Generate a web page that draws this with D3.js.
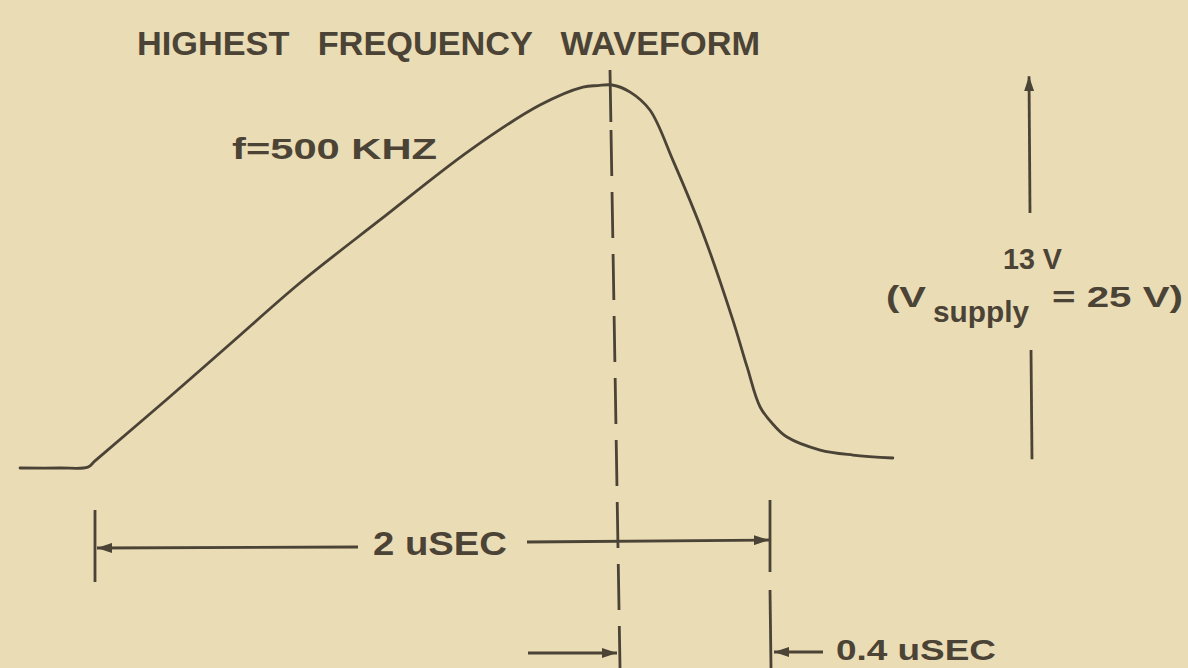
<!DOCTYPE html>
<html>
<head>
<meta charset="utf-8">
<script src="https://cdn.jsdelivr.net/npm/d3@7"></script>
<style>
  html, body { margin: 0; padding: 0; background: #eadcb5; }
  svg { display: block; }
  text { font-family: "Liberation Sans Narrow", "Liberation Sans", "DejaVu Sans", sans-serif; font-weight: bold; fill: #4a4336; }
</style>
</head>
<body>
<script>
// Waveform samples: time in microseconds, output in volts
const timeUs = [-0.232, -0.108, -0.022, 0.000, 0.220, 0.418, 0.634, 0.882, 1.161, 1.377, 1.510, 1.556, 1.600,
                1.646, 1.696, 1.754, 1.830, 1.906, 1.942, 1.975, 2.010, 2.043, 2.127, 2.210, 2.311];
const volts  = [0.00, 0.00, 0.03, 0.24, 2.31, 4.21, 6.28, 8.42, 10.79, 12.32, 12.93, 12.98, 13.00,
                12.76, 12.15, 10.45, 7.98, 5.02, 3.43, 2.07, 1.45, 1.05, 0.61, 0.44, 0.34];

// Timing annotations (microseconds)
const periodUs = 2;        // full cycle, f = 500 kHz
const fallUs = 0.4;        // peak to end of cycle
const peakUs = periodUs - fallUs;

// Amplitude annotation (volts)
const amplitudeV = 13;
const ampBaseV = 0.3;
const supplyV = 25;

// Text labels
const titleText = "HIGHEST FREQUENCY WAVEFORM";
const freqText = "f=500 KHZ";
const periodText = "2 uSEC";
const fallText = "0.4 uSEC";

const W = 1188, H = 668;
const ink = "#4a4336";
const lw = 2.8;

const svg = d3.select("body").append("svg").attr("width", W).attr("height", H);

// Drawing is not to scale: piecewise time axis (rise and fall portions)
const x = d3.scaleLinear().domain([0, peakUs, periodUs]).range([95, 612, 770]);
const y = d3.scaleLinear().domain([0, amplitudeV]).range([468, 85]);

const defs = svg.append("defs");
defs.append("marker")
  .attr("id", "head")
  .attr("viewBox", "0 0 15 10")
  .attr("refX", 15).attr("refY", 5)
  .attr("markerWidth", 15).attr("markerHeight", 10)
  .attr("markerUnits", "userSpaceOnUse")
  .attr("orient", "auto-start-reverse")
  .append("path").attr("d", "M0,0 L15,5 L0,10 Z").attr("fill", ink);

// Waveform
const pts = timeUs.map((t, i) => [t, volts[i]]);
svg.append("path")
  .datum(pts)
  .attr("d", d3.line().x(d => x(d[0])).y(d => y(d[1])).curve(d3.curveCatmullRom.alpha(0.5)))
  .attr("fill", "none").attr("stroke", ink).attr("stroke-width", lw)
  .attr("stroke-linecap", "round").attr("stroke-linejoin", "round");

// Dashed marker through the peak
const dash = [52, 8].concat(d3.range(12).flatMap(() => [46, 16]));
svg.append("line")
  .attr("x1", x(peakUs) - 2).attr("x2", x(peakUs) + 8)
  .attr("y1", 70).attr("y2", H)
  .attr("stroke", ink).attr("stroke-width", lw)
  .attr("stroke-dasharray", dash.join(" "));

// Period dimension ticks
svg.append("line")
  .attr("x1", x(0)).attr("x2", x(0)).attr("y1", 510).attr("y2", 582)
  .attr("stroke", ink).attr("stroke-width", lw);
svg.append("line")
  .attr("x1", x(periodUs)).attr("x2", x(periodUs)).attr("y1", 500).attr("y2", 572)
  .attr("stroke", ink).attr("stroke-width", lw);
svg.append("line")
  .attr("x1", x(periodUs)).attr("x2", x(periodUs) + 1).attr("y1", 590).attr("y2", H)
  .attr("stroke", ink).attr("stroke-width", lw);

// Period arrows
svg.append("line")
  .attr("x1", 358).attr("y1", 547).attr("x2", x(0) + 2).attr("y2", 548)
  .attr("stroke", ink).attr("stroke-width", lw).attr("marker-end", "url(#head)");
svg.append("line")
  .attr("x1", 527).attr("y1", 542).attr("x2", x(periodUs) - 1).attr("y2", 540)
  .attr("stroke", ink).attr("stroke-width", lw).attr("marker-end", "url(#head)");
svg.append("text")
  .attr("x", 373).attr("y", 555)
  .attr("font-size", 34).attr("textLength", 134).attr("lengthAdjust", "spacingAndGlyphs")
  .text(periodText);

// Fall-time arrows
svg.append("line")
  .attr("x1", 528).attr("y1", 653).attr("x2", 617).attr("y2", 653)
  .attr("stroke", ink).attr("stroke-width", lw).attr("marker-end", "url(#head)");
svg.append("line")
  .attr("x1", 823).attr("y1", 652).attr("x2", x(periodUs) + 4).attr("y2", 652)
  .attr("stroke", ink).attr("stroke-width", lw).attr("marker-end", "url(#head)");
svg.append("text")
  .attr("x", 836).attr("y", 660)
  .attr("font-size", 30).attr("textLength", 160).attr("lengthAdjust", "spacingAndGlyphs")
  .text(fallText);

// Title and frequency label
svg.append("text")
  .attr("x", 137).attr("y", 55)
  .attr("font-size", 33).attr("textLength", 623).attr("lengthAdjust", "spacingAndGlyphs")
  .attr("word-spacing", 18)
  .text(titleText);
svg.append("text")
  .attr("x", 232).attr("y", 159)
  .attr("font-size", 30).attr("textLength", 205).attr("lengthAdjust", "spacingAndGlyphs")
  .text(freqText);

// Amplitude arrow with label gap
const ax = 1030;
svg.append("line")
  .attr("x1", ax).attr("y1", 213).attr("x2", ax - 1).attr("y2", y(ampBaseV + amplitudeV))
  .attr("stroke", ink).attr("stroke-width", lw).attr("marker-end", "url(#head)");
svg.append("line")
  .attr("x1", ax + 1).attr("y1", 350).attr("x2", ax + 2).attr("y2", y(ampBaseV))
  .attr("stroke", ink).attr("stroke-width", lw);

svg.append("text")
  .attr("x", 1003).attr("y", 269)
  .attr("font-size", 30).attr("textLength", 59).attr("lengthAdjust", "spacingAndGlyphs")
  .text(`${amplitudeV} V`);
svg.append("text")
  .attr("x", 886).attr("y", 307)
  .attr("font-size", 30).attr("textLength", 40).attr("lengthAdjust", "spacingAndGlyphs")
  .text("(V");
svg.append("text")
  .attr("x", 933).attr("y", 322)
  .attr("font-size", 30).attr("textLength", 96).attr("lengthAdjust", "spacingAndGlyphs")
  .text("supply");
svg.append("text")
  .attr("x", 1052).attr("y", 307)
  .attr("font-size", 30).attr("textLength", 131).attr("lengthAdjust", "spacingAndGlyphs")
  .text(`= ${supplyV} V)`);
</script>
</body>
</html>
